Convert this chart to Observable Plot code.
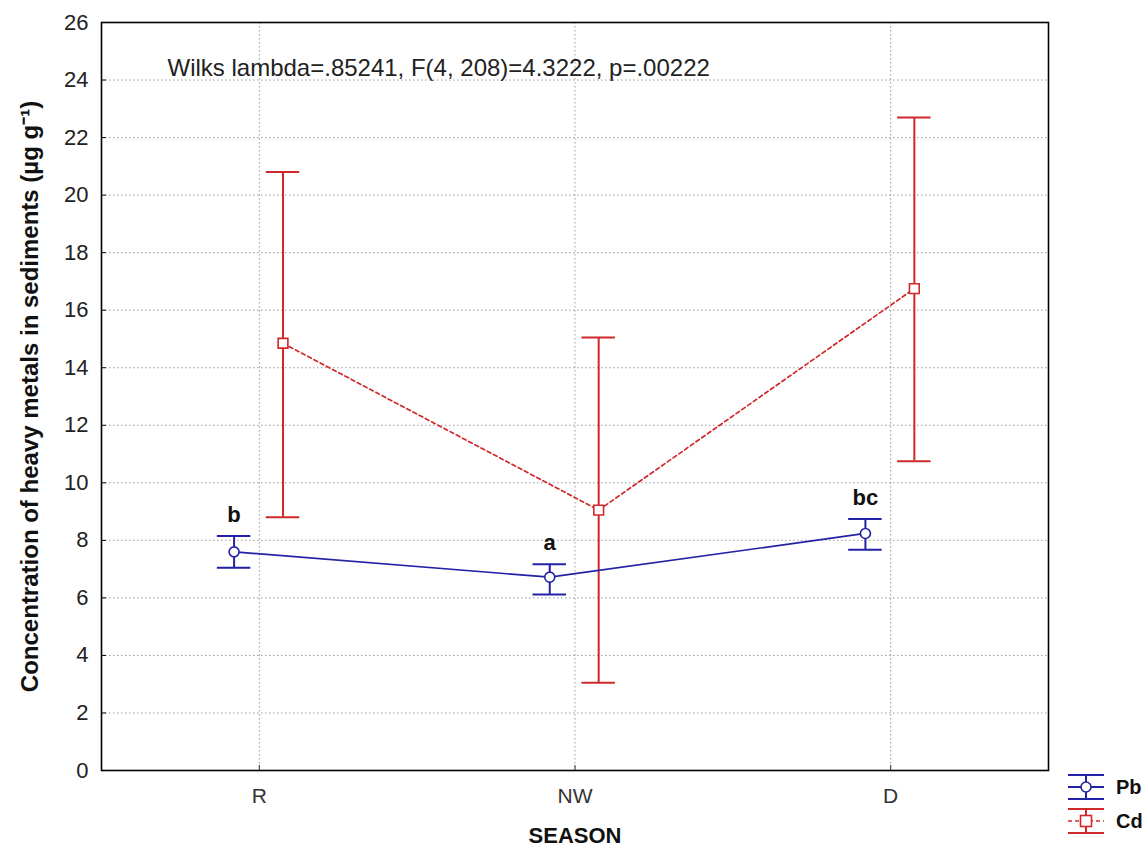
<!DOCTYPE html>
<html>
<head>
<meta charset="utf-8">
<script src="https://cdn.jsdelivr.net/npm/d3@7"></script>
<script src="https://cdn.jsdelivr.net/npm/@observablehq/plot@0.6"></script>
<style>
  html, body { margin: 0; padding: 0; background: #fff; }
  #wrap { position: relative; width: 1148px; height: 854px; font-family: "Liberation Sans", Arial, sans-serif; }
  .legend { position: absolute; left: 1066px; top: 770px; }
  .legend .item { display: flex; align-items: center; height: 34px; }
  .legend .lab { font-weight: bold; font-size: 20px; margin-left: 10px; color: #111; }
</style>
</head>
<body>
<div id="wrap"></div>
<script>
// ---- data ----
const seasons = ["R", "NW", "D"];
const pbMean = [7.6, 6.72, 8.24];
const pbLow  = [7.05, 6.12, 7.67];
const pbHigh = [8.15, 7.17, 8.74];
const cdMean = [14.85, 9.05, 16.75];
const cdLow  = [8.8, 3.05, 10.75];
const cdHigh = [20.8, 15.05, 22.7];
const letters = ["b", "a", "bc"];
const yTicks = [0, 2, 4, 6, 8, 10, 12, 14, 16, 18, 20, 22, 24, 26];
const wilksText = "Wilks lambda=.85241, F(4, 208)=4.3222, p=.00222";
const yTitle = "Concentration of heavy metals in sediments (\u00b5g g\u207b\u00b9)";
const xTitle = "SEASON";
const seriesNames = ["Pb", "Cd"];

const blue = "#2222a6";
const red = "#d02828";
const font = "'Liberation Sans', Arial, sans-serif";

const pbOff = -0.08, cdOff = 0.075, capHalf = 0.053;
const pb = seasons.map((s, i) => ({pos: i + 0.5 + pbOff, mean: pbMean[i], lo: pbLow[i], hi: pbHigh[i], letter: letters[i]}));
const cd = seasons.map((s, i) => ({pos: i + 0.5 + cdOff, mean: cdMean[i], lo: cdLow[i], hi: cdHigh[i]}));
const catPos = seasons.map((s, i) => i + 0.5);

function seriesMarks(data, color, symbol, r, dash) {
  return [
    Plot.line(data, {x: "pos", y: "mean", stroke: color, strokeWidth: 1.7, strokeDasharray: dash}),
    Plot.ruleX(data, {x: "pos", y1: "lo", y2: "hi", stroke: color, strokeWidth: 2}),
    Plot.ruleY(data, {y: "hi", x1: d => d.pos - capHalf, x2: d => d.pos + capHalf, stroke: color, strokeWidth: 2}),
    Plot.ruleY(data, {y: "lo", x1: d => d.pos - capHalf, x2: d => d.pos + capHalf, stroke: color, strokeWidth: 2}),
    Plot.dot(data, {x: "pos", y: "mean", symbol, r, fill: "white", stroke: color, strokeWidth: 1.6})
  ];
}

const chart = Plot.plot({
  width: 1148,
  height: 854,
  marginLeft: 101,
  marginRight: 100,
  marginTop: 22,
  marginBottom: 84,
  style: {fontFamily: font, background: "white", color: "#222"},
  x: {domain: [0, 3], axis: null},
  y: {domain: [0, 26], axis: null},
  marks: [
    Plot.gridY(yTicks, {stroke: "#9a9a9a", strokeOpacity: 1, strokeDasharray: "1.5,2.5"}),
    Plot.gridX(catPos, {stroke: "#9a9a9a", strokeOpacity: 1, strokeDasharray: "1.5,2.5"}),
    Plot.axisY(yTicks, {tickSize: -5, tickPadding: 18, fontSize: 22, label: null, stroke: "black", color: "#222"}),
    Plot.axisX(catPos, {tickSize: -5, tickPadding: 23, fontSize: 21, label: null, tickFormat: (d, i) => seasons[i], color: "#333"}),
    Plot.frame({stroke: "black", strokeWidth: 1.6}),
    ...seriesMarks(cd, red, "square", 5.5, "4,3"),
    ...seriesMarks(pb, blue, "circle", 5, null),
    Plot.text(pb, {x: "pos", y: "hi", text: "letter", dy: -14, lineAnchor: "bottom", fontWeight: "bold", fontSize: 22, fill: "#111"}),
    Plot.text([wilksText], {frameAnchor: "top-left", dx: 66, dy: 36, fontSize: 24, fill: "#222", textAnchor: "start"}),
    Plot.text([yTitle], {frameAnchor: "left", dx: -71, rotate: -90, textAnchor: "middle", fontSize: 24, fontWeight: "bold", fill: "#111"}),
    Plot.text([xTitle], {frameAnchor: "bottom", dy: 72, fontSize: 22, fontWeight: "bold", fill: "#111"})
  ]
});

const wrap = document.getElementById("wrap");
wrap.appendChild(chart);

// legend
const legend = document.createElement("div");
legend.className = "legend";
const icons = [
  `<svg width="40" height="30"><g stroke="${blue}" stroke-width="2"><line x1="2" y1="3" x2="38" y2="3"/><line x1="2" y1="27" x2="38" y2="27"/><line x1="20" y1="3" x2="20" y2="27"/><line x1="2" y1="15" x2="38" y2="15"/></g><circle cx="20" cy="15" r="5" fill="white" stroke="${blue}" stroke-width="1.6"/></svg>`,
  `<svg width="40" height="30"><g stroke="${red}" stroke-width="2"><line x1="2" y1="3" x2="38" y2="3"/><line x1="2" y1="27" x2="38" y2="27"/><line x1="20" y1="3" x2="20" y2="27"/></g><line x1="2" y1="15" x2="38" y2="15" stroke="${red}" stroke-width="1.6" stroke-dasharray="4,3"/><rect x="14.5" y="9.5" width="11" height="11" fill="white" stroke="${red}" stroke-width="1.6"/></svg>`
];
seriesNames.forEach((n, i) => {
  const it = document.createElement("div");
  it.className = "item";
  it.innerHTML = icons[i] + `<span class="lab">${n}</span>`;
  legend.appendChild(it);
});
wrap.appendChild(legend);
</script>
</body>
</html>
